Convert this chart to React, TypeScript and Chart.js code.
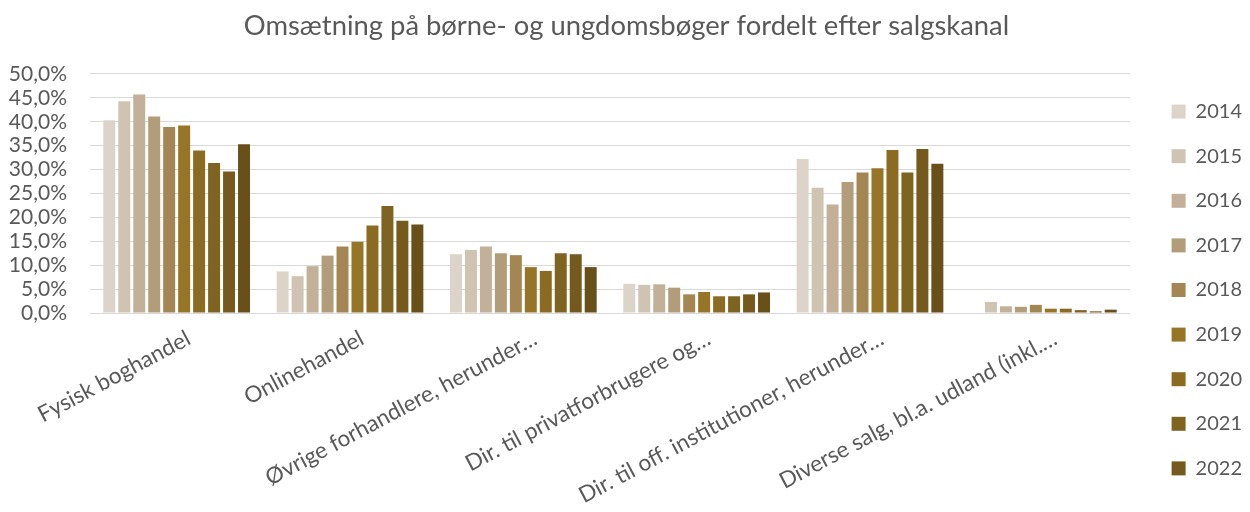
import React, { useEffect, useRef } from "react";
import { Chart, registerables } from "chart.js";

Chart.register(...registerables);

const TITLE = "Omsætning på børne- og ungdomsbøger fordelt efter salgskanal";

const categories = [
  "Fysisk boghandel",
  "Onlinehandel",
  "Øvrige forhandlere, herunder…",
  "Dir. til privatforbrugere og…",
  "Dir. til off. institutioner, herunder…",
  "Diverse salg, bl.a. udland (inkl.…",
];

const years = ["2014", "2015", "2016", "2017", "2018", "2019", "2020", "2021", "2022", "2023"];

// values per category, one per year (percent)
const fysiskBoghandel = [40.3, 44.3, 45.7, 41.1, 38.9, 39.2, 34.0, 31.4, 29.6, 35.3];
const onlinehandel = [8.7, 7.7, 9.8, 12.0, 13.9, 14.9, 18.3, 22.4, 19.3, 18.5];
const oevrigeForhandlere = [12.3, 13.2, 13.9, 12.5, 12.1, 9.6, 8.8, 12.5, 12.3, 9.6];
const dirPrivat = [6.1, 5.9, 6.0, 5.3, 3.9, 4.4, 3.5, 3.5, 3.9, 4.3];
const dirOffInst = [32.2, 26.2, 22.7, 27.4, 29.4, 30.3, 34.1, 29.4, 34.3, 31.2];
const diverseSalg = [null, 2.3, 1.4, 1.3, 1.7, 0.9, 0.9, 0.6, 0.35, 0.7];

const seriesByCategory = [fysiskBoghandel, onlinehandel, oevrigeForhandlere, dirPrivat, dirOffInst, diverseSalg];

const colors = [
  "#dcd4c8",
  "#cfc3b1",
  "#c2b098",
  "#b39c79",
  "#a48652",
  "#967527",
  "#8b6b22",
  "#7f6320",
  "#76591c",
  "#694f18",
];

const yTicks = [0, 5, 10, 15, 20, 25, 30, 35, 40, 45, 50];

const LEGEND_SHIFT_X = 17;
const LEGEND_SHIFT_Y = 34;
const TITLE_SHIFT_X = 9;
const TEXT = "#595959";
const FONT = "Lato";

const shiftBoxes = {
  id: "shiftBoxes",
  afterLayout(chart: any) {
    const l = chart.legend;
    if (l) {
      l.left += LEGEND_SHIFT_X;
      l.right += LEGEND_SHIFT_X;
      l.top += LEGEND_SHIFT_Y;
      l.bottom += LEGEND_SHIFT_Y;
    }
    const t = chart.titleBlock;
    if (t) {
      t.left += TITLE_SHIFT_X;
      t.right += TITLE_SHIFT_X;
    }
  },
};

export default function App() {
  const ref = useRef<HTMLCanvasElement | null>(null);
  useEffect(() => {
    if (!ref.current) return;
    const datasets = years.map((y, i) => ({
      label: y,
      data: seriesByCategory.map((c) => c[i]),
      backgroundColor: colors[i],
      borderWidth: 0,
      categoryPercentage: 0.8636,
      barPercentage: 0.8,
    }));
    const chart = new Chart(ref.current, {
      type: "bar",
      data: { labels: categories, datasets },
      plugins: [shiftBoxes],
      options: {
        responsive: false,
        animation: false,
        layout: { padding: { left: 0, right: 15, top: 0, bottom: 0 } },
        plugins: {
          title: {
            display: true,
            text: TITLE,
            color: TEXT,
            font: { family: FONT, size: 27.4, weight: "normal" },
            padding: { top: 10, bottom: 31.1 },
          },
          legend: {
            position: "right",
            labels: {
              color: TEXT,
              font: { family: FONT, size: 20 },
              boxWidth: 14,
              boxHeight: 14,
              padding: 24.6,
              filter: (item: any) => item.datasetIndex < 9,
            },
          },
          tooltip: { enabled: false },
        },
        scales: {
          x: {
            grid: { display: false },
            border: { display: false },
            ticks: {
              color: TEXT,
              font: { family: FONT, size: 22.5 },
              autoSkip: false,
              minRotation: 28,
              maxRotation: 28,
              padding: 4,
              labelOffset: 12,
            },
            afterFit: (s: any) => {
              s.height = 199;
            },
          },
          y: {
            min: 0,
            max: 50,
            grid: { color: "#d9d9d9", lineWidth: 1, drawTicks: false },
            border: { display: false },
            afterBuildTicks: (s: any) => {
              s.ticks = yTicks.map((v) => ({ value: v }));
            },
            ticks: {
              color: TEXT,
              font: { family: FONT, size: 21 },
              padding: 23,
              autoSkip: false,
              callback: (v: any) => Number(v).toFixed(1).replace(".", ",") + "%",
            },
            afterFit: (s: any) => {
              s.width = 90;
            },
          },
        },
      },
    });
    return () => chart.destroy();
  }, []);
  return (
    <div style={{ position: "absolute", left: 0, top: 0, width: 1250, height: 512, background: "#fff" }}>
      <canvas ref={ref} width={1250} height={512} style={{ display: "block" }} />
    </div>
  );
}
